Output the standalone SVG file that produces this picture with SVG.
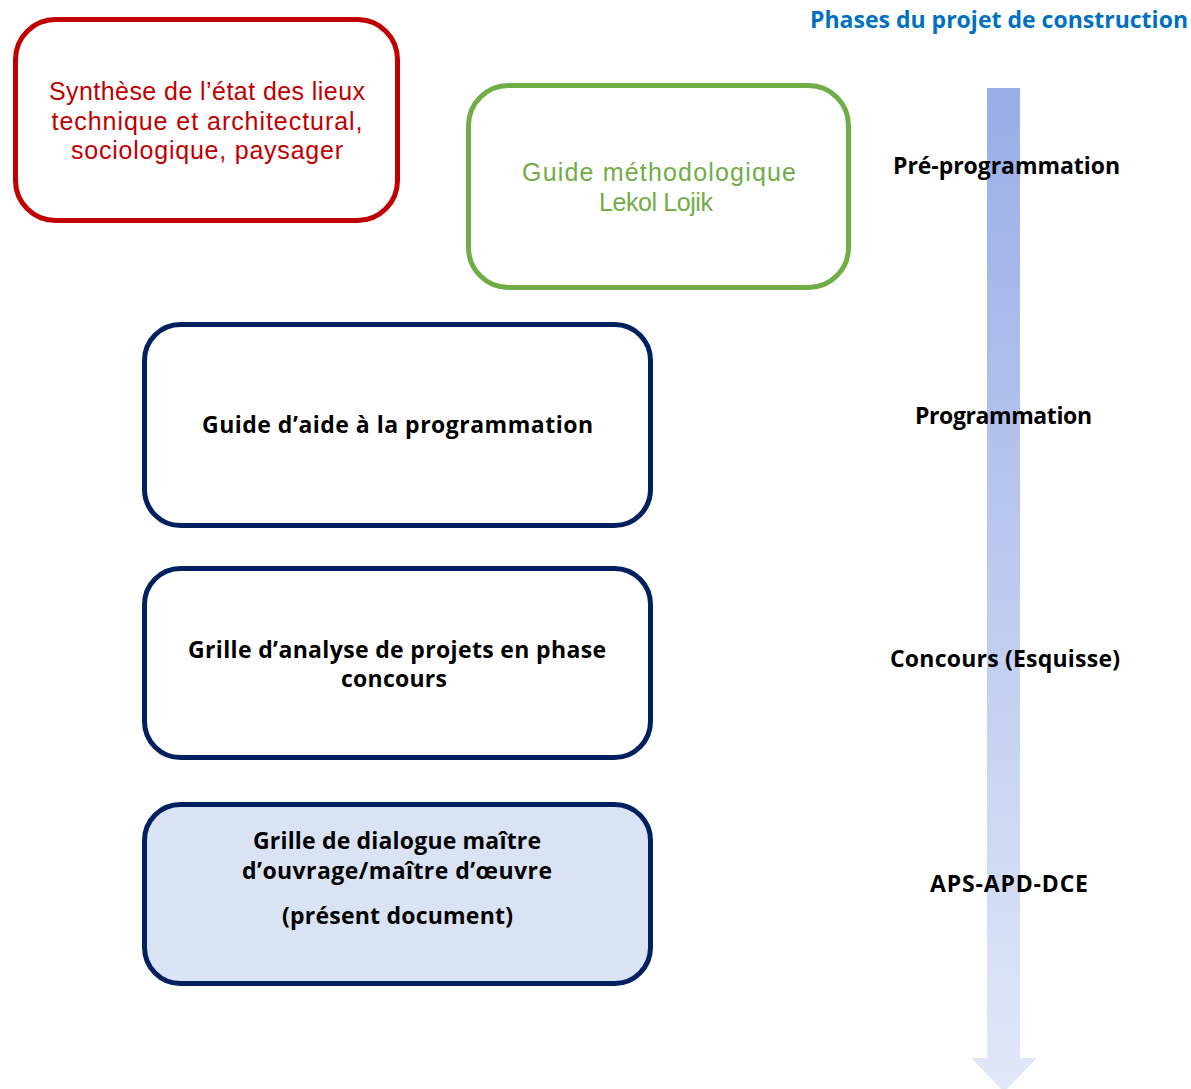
<svg xmlns="http://www.w3.org/2000/svg" width="1191" height="1089" viewBox="0 0 1191 1089">
<style>
.box{fill:#fff;stroke-width:5}
.t{font-family:"Open Sans","Liberation Sans",sans-serif;text-anchor:middle}
.reg{font-family:"Liberation Sans","Open Sans",sans-serif;font-size:25px}
.b{font-size:23px;font-weight:bold;fill:#000}
</style>
<defs>
<linearGradient id="ag" x1="0" y1="0" x2="0" y2="1">
<stop offset="0" stop-color="#99AEE8"/>
<stop offset="1" stop-color="#E2E8F8"/>
</linearGradient>
</defs>
<rect width="1191" height="1089" fill="#fff"/>
<g id="timeline">
<path d="M987 88 H1020 V1058 H1037 L1004 1092 L971 1058 H987 Z" fill="url(#ag)"/>
</g>
<g id="connectors"/>
<g id="n-synthese">
<rect class="box" x="15.5" y="19.5" width="382" height="201" rx="40" stroke="#C00000"/>
<text class="t reg" fill="#C00000" x="207" y="100" textLength="316">Synthèse de l’état des lieux</text>
<text class="t reg" fill="#C00000" x="207" y="129.5" textLength="311">technique et architectural,</text>
<text class="t reg" fill="#C00000" x="207" y="159" textLength="272">sociologique, paysager</text>
</g>
<g id="n-guide-metho">
<rect class="box" x="468.5" y="85.5" width="380" height="202" rx="40" stroke="#70AD47"/>
<text class="t reg" fill="#70AD47" x="659" y="181" textLength="274">Guide méthodologique</text>
<text class="t reg" fill="#70AD47" x="656" y="211" textLength="114">Lekol Lojik</text>
</g>
<g id="n-guide-prog">
<rect class="box" x="144.5" y="324.5" width="506" height="201" rx="36" stroke="#002060"/>
<text class="t b" x="397.5" y="433" textLength="391">Guide d’aide à la programmation</text>
</g>
<g id="n-grille-concours">
<rect class="box" x="144.5" y="568.5" width="506" height="189" rx="36" stroke="#002060"/>
<text class="t b" x="397" y="658" textLength="418">Grille d’analyse de projets en phase</text>
<text class="t b" x="394" y="687" textLength="106">concours</text>
</g>
<g id="n-grille-dialogue">
<rect class="box" x="144.5" y="804.5" width="506" height="179" rx="36" stroke="#002060" style="fill:#DAE3F3"/>
<text class="t b" x="397" y="849" textLength="288">Grille de dialogue maître</text>
<text class="t b" x="397" y="879" textLength="310">d’ouvrage/maître d’œuvre</text>
<text class="t b" x="397.5" y="924" textLength="231">(présent document)</text>
</g>
<g id="labels">
<text class="t b" x="999" y="28" textLength="378" style="fill:#0070C0">Phases du projet de construction</text>
<text class="t b" x="1006.5" y="174" textLength="227">Pré-programmation</text>
<text class="t b" x="1003.5" y="424" textLength="177">Programmation</text>
<text class="t b" x="1005" y="667" textLength="230">Concours (Esquisse)</text>
<text class="t b" x="1009" y="892" textLength="158">APS-APD-DCE</text>
</g>
</svg>
